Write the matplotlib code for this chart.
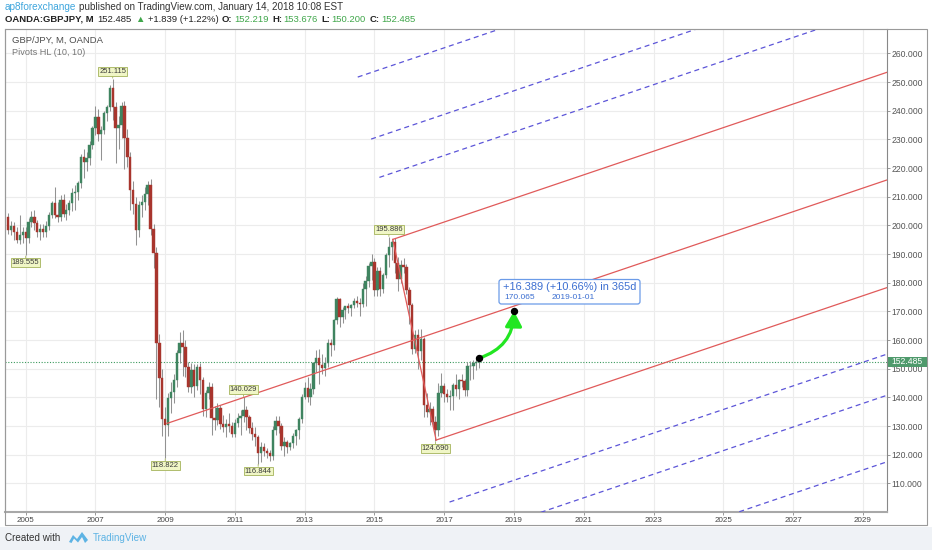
import numpy as np
import pandas as pd
import matplotlib
matplotlib.use("Agg")
import matplotlib.pyplot as plt
import matplotlib.dates as mdates
import matplotlib.transforms as mtransforms
from matplotlib.patches import FancyArrowPatch, FancyBboxPatch, Rectangle, Polygon

# ---------- 1. DATA (monthly GBP/JPY, OANDA) ----------
first_month = "2004-07-01"

opens = [
    203.0, 198.5, 199.8, 197.8, 195.0, 196.5,
    197.8, 195.5, 201.3, 203.0, 200.8, 197.8, 198.6, 197.6, 199.8, 203.5, 207.7, 203.6,
    203.0, 208.8, 204.0, 205.5, 207.7, 211.2, 211.8, 214.7, 224.0, 222.2, 223.4, 228.0,
    233.8, 237.9, 231.8, 233.4, 239.2, 241.2, 247.8, 241.2, 233.8, 235.0, 241.8, 230.3,
    223.8, 212.2, 207.5, 198.3, 207.0, 208.0, 211.0, 214.2, 198.7, 190.5, 158.8, 146.6,
    132.6, 130.3, 139.6, 141.9, 146.0, 155.4, 158.8, 157.5, 150.5, 143.7, 149.5, 143.8,
    150.5, 145.9, 135.8, 141.5, 143.6, 132.8, 132.2, 136.3, 130.6, 129.5, 130.8, 130.0,
    127.2, 131.0, 132.8, 133.6, 135.5, 133.3, 129.3, 127.3, 126.3, 120.5, 122.6, 121.2,
    120.6, 119.4, 128.5, 131.6, 129.9, 122.9, 124.5, 122.6, 123.9, 126.5, 128.6, 132.3,
    140.2, 143.4, 140.1, 143.0, 151.9, 153.8, 151.2, 150.3, 152.0, 158.8, 158.2, 166.9,
    174.3, 168.0, 170.5, 171.7, 171.2, 172.3, 173.5, 173.0, 172.4, 177.8, 180.5, 185.8,
    187.3, 177.5, 184.0, 177.8, 182.8, 189.7, 192.6, 194.3, 187.0, 181.3, 186.1, 185.3,
    177.3, 172.1, 157.0, 161.8, 156.3, 160.5, 137.5, 135.0, 136.0, 131.4, 128.5, 141.5,
    144.1, 141.2, 140.0, 140.4, 144.3, 142.8, 146.0, 145.6, 142.4, 150.9, 151.1, 152.0,
    152.219,
]
highs = [
    204.2, 201.5, 201.0, 199.5, 203.5, 199.5,
    199.5, 202.5, 205.0, 205.5, 202.0, 200.5, 200.5, 201.5, 204.5, 208.5, 213.5, 208.0,
    210.5, 211.0, 207.5, 209.0, 213.0, 214.0, 215.5, 225.0, 226.5, 225.5, 229.5, 234.5,
    241.5, 240.5, 234.5, 239.8, 242.0, 249.0, 251.115, 243.0, 238.0, 243.2, 243.5, 233.5,
    225.5, 215.5, 210.0, 208.5, 210.5, 213.5, 215.5, 216.0, 200.5, 192.5, 162.0, 150.0,
    136.5, 141.5, 145.5, 148.0, 156.5, 162.9, 163.5, 160.0, 152.5, 152.0, 151.5, 151.5,
    152.0, 147.0, 142.5, 145.5, 145.0, 137.0, 138.0, 137.5, 134.0, 132.5, 134.5, 131.5,
    132.5, 134.5, 135.5, 140.029, 137.0, 134.0, 131.5, 129.5, 127.0, 124.5, 124.0, 122.5,
    121.5, 130.0, 133.5, 133.5, 131.0, 126.0, 125.0, 124.5, 127.5, 129.0, 133.0, 141.0,
    145.5, 147.0, 145.0, 152.5, 156.5, 157.0, 155.0, 154.0, 160.5, 160.5, 167.5, 175.0,
    174.8, 171.5, 172.0, 173.0, 172.5, 174.5, 175.5, 174.5, 180.0, 182.5, 187.0, 190.0,
    188.5, 185.5, 185.5, 183.5, 190.5, 195.886, 195.0, 195.5, 189.0, 188.0, 188.5, 186.5,
    178.5, 173.0, 163.5, 164.0, 164.0, 161.0, 141.5, 138.5, 137.0, 133.5, 145.0, 148.5,
    145.0, 143.0, 142.5, 145.0, 148.1, 146.5, 148.0, 146.5, 152.5, 152.8, 152.9, 153.5,
    153.676,
]
lows = [
    197.0, 196.5, 195.0, 193.8, 193.5, 194.0,
    189.555, 194.0, 199.5, 198.5, 196.0, 194.9, 196.0, 196.0, 198.5, 202.5, 202.5, 201.0,
    201.5, 203.0, 202.0, 203.5, 205.0, 205.5, 209.0, 213.0, 216.5, 219.0, 221.0, 226.5,
    231.5, 229.5, 222.7, 232.0, 236.5, 240.0, 236.8, 221.6, 226.5, 230.5, 219.5, 220.5,
    205.5, 204.0, 193.2, 196.0, 203.0, 205.5, 207.0, 196.5, 185.0, 139.5, 136.5, 126.5,
    118.822, 126.5, 134.5, 138.0, 143.5, 152.0, 147.5, 147.0, 142.0, 141.5, 140.0, 142.5,
    141.0, 133.5, 133.0, 139.5, 126.7, 128.5, 130.5, 129.0, 128.0, 126.0, 128.0, 126.0,
    126.0, 129.5, 127.0, 131.5, 128.5, 127.5, 125.0, 123.0, 116.844, 117.5, 119.5, 119.0,
    117.8, 118.0, 127.0, 127.5, 121.5, 119.5, 120.5, 121.5, 122.5, 123.5, 125.5, 131.0,
    139.5, 138.5, 137.5, 141.0, 149.0, 144.5, 148.0, 147.5, 150.5, 154.5, 156.5, 165.5,
    164.5, 166.0, 167.5, 169.5, 168.5, 171.0, 171.5, 168.5, 171.5, 172.0, 178.5, 181.0,
    175.5, 175.5, 175.5, 176.5, 181.5, 185.5, 188.0, 183.5, 177.0, 180.0, 183.5, 176.0,
    165.5, 155.0, 155.5, 150.0, 153.0, 133.0, 133.0, 130.5, 129.3, 124.69, 126.5, 140.0,
    138.5, 138.5, 135.6, 135.5, 140.5, 139.5, 143.5, 140.5, 140.5, 146.0, 146.5, 149.5,
    150.2,
]
closes = [
    198.5, 199.8, 197.8, 195.0, 196.5, 197.8,
    195.5, 201.3, 203.0, 200.8, 197.8, 198.6, 197.6, 199.8, 203.5, 207.7, 203.6, 203.0,
    208.8, 204.0, 205.5, 207.7, 211.2, 211.8, 214.7, 224.0, 222.2, 223.4, 228.0, 233.8,
    237.9, 231.8, 233.4, 239.2, 241.2, 247.8, 241.2, 233.8, 235.0, 241.8, 230.3, 223.8,
    212.2, 207.5, 198.3, 207.0, 208.0, 211.0, 214.2, 198.7, 190.5, 158.8, 146.6, 132.6,
    130.3, 139.6, 141.9, 146.0, 155.4, 158.8, 157.5, 150.5, 143.7, 149.5, 143.8, 150.5,
    145.9, 135.8, 141.5, 143.6, 132.8, 132.2, 136.3, 130.6, 129.5, 130.8, 130.0, 127.2,
    131.0, 132.8, 133.6, 135.5, 133.3, 129.3, 127.3, 126.3, 120.5, 122.6, 121.2, 120.6,
    119.4, 128.5, 131.6, 129.9, 122.9, 124.5, 122.6, 123.9, 126.5, 128.6, 132.3, 140.2,
    143.4, 140.1, 143.0, 151.9, 153.8, 151.2, 150.3, 152.0, 158.8, 158.2, 166.9, 174.3,
    168.0, 170.5, 171.7, 171.2, 172.3, 173.5, 173.0, 172.4, 177.8, 180.5, 185.8, 187.3,
    177.5, 184.0, 177.8, 182.8, 189.7, 192.6, 194.3, 187.0, 181.3, 186.1, 185.3, 177.3,
    172.1, 157.0, 161.8, 156.3, 160.5, 137.5, 135.0, 136.0, 131.4, 128.5, 141.5, 144.1,
    141.2, 140.0, 140.4, 144.3, 142.8, 146.0, 145.6, 142.4, 150.9, 151.1, 152.0, 152.219,
    152.485,
]

# pivot high / low labels
pivot_dates = ["2005-01-01", "2007-07-01", "2009-01-01", "2011-04-01",
               "2011-09-01", "2015-06-01", "2016-10-01"]
pivot_values = [189.555, 251.115, 118.822, 140.029, 116.844, 195.886, 124.690]
pivot_kind = ["low", "high", "low", "high", "low", "high", "low"]

# pitchfork anchors A, B, C and the extra levels
fork_dates = ["2009-01-19", "2015-07-12", "2016-10-08"]
fork_prices = [130.9, 195.1, 125.1]
fork_levels = [1.618, 2.0, 2.618]

# projection arrow
proj_dates = ["2018-01-01", "2019-01-01"]
proj_prices = [153.676, 170.065]
proj_text = "+16.389 (+10.66%) in 365d"
proj_sub = ["170.065", "2019-01-01"]

last_price = 152.485
y_ticks = list(range(110, 261, 10))
year_ticks = list(range(2005, 2030, 2))

header_user = "ap8forexchange"
header_rest = "published on TradingView.com, January 14, 2018 10:08 EST"
header_line2 = [("OANDA:GBPJPY, M", "bold", "dark"), ("152.485", "normal", "dark"),
                ("\u25B2", "normal", "green"), ("+1.839 (+1.22%)", "normal", "dark"),
                ("O:", "bold", "dark"), ("152.219", "normal", "green"),
                ("H:", "bold", "dark"), ("153.676", "normal", "green"),
                ("L:", "bold", "dark"), ("150.200", "normal", "green"),
                ("C:", "bold", "dark"), ("152.485", "normal", "green")]

# ---------- 2. FIGURE ----------
plt.rcParams['font.family'] = ['Liberation Sans', 'DejaVu Sans']
W, H = 932, 550
fig = plt.figure(figsize=(W / 100, H / 100), dpi=100, facecolor="white")
px = mtransforms.Affine2D().scale(1 / W, -1 / H).translate(0, 1) + fig.transFigure
# x in display pixels, y in top-down pixels
px_x = mtransforms.blended_transform_factory(mtransforms.IdentityTransform(), px)

ax = fig.add_axes([5 / W, (H - 512) / H, 882 / W, 483 / H])
ax.set_facecolor("white")

dates = pd.date_range(first_month, periods=len(closes), freq="MS")
x = mdates.date2num(dates)
o, h, l, c = map(np.array, (opens, highs, lows, closes))
up = c >= o
body_col = np.where(up, "#3f8460", "#a8352d")

ax.vlines(x, l, h, color="#929292", lw=0.75, zorder=3)
ax.bar(x, np.maximum(np.abs(c - o), 0.15), bottom=np.minimum(o, c), width=25,
       color=body_col, edgecolor=body_col, linewidth=0.3, zorder=4)

# current price line
ax.axhline(last_price, color="#3c9a5e", lw=0.8, ls=(0, (1, 1.5)), zorder=2)

# ---------- 3. PITCHFORK ----------
xlim = (mdates.datestr2num("2004-05-29"), mdates.datestr2num("2029-09-11"))
tA, tB, tC = mdates.datestr2num(fork_dates)
pA, pB, pC = fork_prices
tM, pM = (tB + tC) / 2, (pB + pC) / 2
slope = (pM - pA) / (tM - tA)


def ray(t0, p0):
    return [t0, xlim[1]], [p0, p0 + slope * (xlim[1] - t0)]


red = "#e05a5a"
for t0, p0 in [(tA, pA), (tB, pB), (tC, pC)]:
    ax.plot(*ray(t0, p0), color=red, lw=0.9, zorder=5)
ax.plot([tB, tC], [pB, pC], color=red, lw=0.9, zorder=5)
for lv in fork_levels:
    for tt, pp in [(tB, pB), (tC, pC)]:
        t0, p0 = tM + lv * (tt - tM), pM + lv * (pp - pM)
        ax.plot(*ray(t0, p0), color="#5c55d8", lw=0.9, dashes=(4, 3), zorder=5)

# ---------- 4. PIVOT LABELS ----------
for d, v, kind in zip(pivot_dates, pivot_values, pivot_kind):
    off = 5.3 if kind == "high" else -5.3
    ax.annotate(f"{v:.3f}", xy=(mdates.datestr2num(d), v), xytext=(0, off),
                textcoords="offset points", ha="center", va="center",
                fontsize=5.5, color="#3a3a3a", zorder=8,
                bbox=dict(boxstyle="square,pad=0.12", fc="#f0f6c6", ec="#a4b35a", lw=0.6),
                arrowprops=dict(arrowstyle="-", color="#a4b35a", lw=0.6, shrinkA=0, shrinkB=0.5))

# ---------- 5. PROJECTION ARROW ----------
t0, t1 = mdates.datestr2num(proj_dates)
arrow = FancyArrowPatch((t0, proj_prices[0]), (t1, proj_prices[1]),
                        connectionstyle="arc3,rad=0.35",
                        arrowstyle="-|>,head_length=0.9,head_width=0.5", mutation_scale=10,
                        color="#22e622", lw=2.3, shrinkA=0, shrinkB=0, zorder=9)
ax.add_patch(arrow)
ax.plot([t0, t1], proj_prices, "o", ms=4.3, color="black", zorder=10)

# ---------- 6. AXES STYLE ----------
ax.set_xlim(xlim)
ax.set_ylim(100.0, 268.5)
ax.yaxis.tick_right()
ax.set_yticks(y_ticks)
ax.set_yticklabels([f"{v:.3f}" for v in y_ticks])
ax.set_xticks([mdates.datestr2num(f"{y}-01-01") for y in year_ticks])
ax.set_xticklabels([str(y) for y in year_ticks])
ax.tick_params(axis="y", length=2.2, width=0.6, color="#888", pad=1.2,
               labelsize=6.2, labelcolor="#555")
ax.tick_params(axis="x", length=2, width=0.6, color="#888", pad=1.5,
               labelsize=5.8, labelcolor="#444")
ax.grid(True, color="#ececec", lw=0.8)
ax.set_axisbelow(True)
for side, col, lw in [("left", "#9a9a9a", 0.8), ("bottom", "#a8a8a8", 1.5),
                      ("right", "#888888", 0.8), ("top", "#cfcfcf", 0.8)]:
    ax.spines[side].set_color(col)
    ax.spines[side].set_linewidth(lw)

# price tag on the right scale
blend = mtransforms.blended_transform_factory(fig.transFigure, ax.transData)
fig.add_artist(Rectangle((887.5 / W, last_price - 1.75), 39 / W, 3.5, transform=blend,
                         fc="#4f9a6c", ec="none", zorder=20))
fig.text(891 / W, last_price, f"{last_price:.3f}", transform=blend, va="center",
         fontsize=6.2, color="white", zorder=21)

# outer frame and footer
fig.add_artist(Rectangle((5, 29), 922, 496, transform=px, fill=False, ec="#9a9a9a", lw=0.8))
fig.add_artist(Rectangle((0, 527), W, 23, transform=px, fc="#eff2f6", ec="none", zorder=-5))
fig.text(5, 538, "Created with", transform=px, va="center", fontsize=7.1, color="#333")
fig.add_artist(Polygon([(69, 542), (73, 535), (77, 539), (82, 532), (88, 540), (85, 543),
                        (82, 537), (78, 542.5), (74, 538.5), (71.5, 543)],
                       closed=True, transform=px, fc="#5db3e4", ec="none"))
fig.text(93, 538, "TradingView", transform=px, va="center", fontsize=7.1, color="#5db3e4")

# ---------- 7. HEADER TEXT ----------
renderer = fig.canvas.get_renderer()
t = fig.text(5, 6.7, header_user, transform=px_x, va="center", fontsize=7.2, color="#3fa6dd")
xe = t.get_window_extent(renderer).x1
fig.text(xe + 3, 6.7, header_rest, transform=px_x, va="center", fontsize=7.1, color="#333")
colors2 = {"dark": "#222222", "green": "#3fa64a"}
xcur = 5
for s, wt, col in header_line2:
    tx = fig.text(xcur, 19.3, s, transform=px_x, va="center", fontsize=6.8,
                  fontweight=wt, color=colors2[col])
    ext = tx.get_window_extent(renderer)
    gap = 1.5 if s.endswith(":") else 3.5
    xcur = ext.x1 + gap

fig.text(12, 40.7, "GBP/JPY, M, OANDA", transform=px, va="center", fontsize=6.8, color="#4d4d4d")
fig.text(12, 52.3, "Pivots HL (10, 10)", transform=px, va="center", fontsize=6.6, color="#777")

# projection label box
fig.add_artist(FancyBboxPatch((499, 279.5), 141, 24.5, boxstyle="round,pad=0,rounding_size=2.5",
                              transform=px, fc="white", ec="#6b9be8", lw=0.9, zorder=22))
fig.text(503, 287, proj_text, transform=px, va="center", fontsize=7.9, color="#3c6fd1", zorder=23)
fig.text(504, 297.5, proj_sub[0], transform=px, va="center", fontsize=6, color="#3c6fd1", zorder=23)
fig.text(552, 297.5, proj_sub[1], transform=px, va="center", fontsize=6, color="#3c6fd1", zorder=23)

fig.savefig("out.png", dpi=100)
